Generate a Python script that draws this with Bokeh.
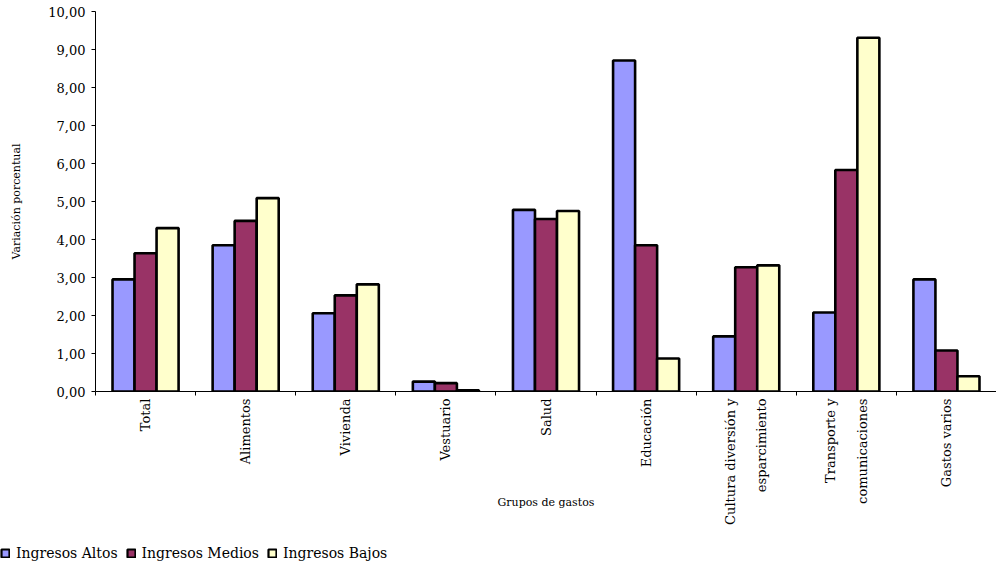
import numpy as np
from bokeh.plotting import figure
from bokeh.layouts import column, row
from bokeh.models import ColumnDataSource, FixedTicker, Legend, LegendItem, Range1d
from bokeh.transform import dodge
from bokeh.embed import file_html
from bokeh.resources import INLINE

categories = ["Total", "Alimentos", "Vivienda", "Vestuario", "Salud", "Educación",
              "Cultura diversión y\nesparcimiento", "Transporte y\ncomunicaciones", "Gastos varios"]
altos = [2.95, 3.85, 2.06, 0.26, 4.78, 8.71, 1.45, 2.08, 2.95]
medios = [3.64, 4.49, 2.53, 0.22, 4.54, 3.85, 3.27, 5.83, 1.08]
bajos = [4.30, 5.09, 2.82, 0.03, 4.75, 0.87, 3.32, 9.31, 0.40]
series_names = ["Ingresos Altos", "Ingresos Medios", "Ingresos Bajos"]
colors = ["#9999FF", "#993366", "#FFFFCC"]
y_ticks = [0, 1, 2, 3, 4, 5, 6, 7, 8, 9, 10]
y_tick_labels = ["0,00", "1,00", "2,00", "3,00", "4,00", "5,00", "6,00", "7,00", "8,00", "9,00", "10,00"]

FONT = "DejaVu Serif"
n = len(categories)
centers = [i + 0.5 for i in range(n)]
source = ColumnDataSource(dict(x=centers, altos=altos, medios=medios, bajos=bajos))

p = figure(width=996, height=541, output_backend="svg", toolbar_location=None,
           x_range=Range1d(0, n), y_range=Range1d(0, 10),
           min_border_left=95, min_border_right=0, min_border_top=11, min_border_bottom=150)
p.outline_line_color = None
p.xgrid.grid_line_color = None
p.ygrid.grid_line_color = None

bw = 0.22
for key, off, col in zip(["altos", "medios", "bajos"], [-bw, 0, bw], colors):
    p.vbar(x=dodge("x", off), top=key, width=bw, source=source,
           fill_color=col, line_color="black", line_width=2.6)

# y axis
p.yaxis.ticker = FixedTicker(ticks=y_ticks)
p.yaxis.major_label_overrides = {t: l for t, l in zip(y_ticks, y_tick_labels)}
p.yaxis.axis_label = "Variación porcentual"
p.yaxis.axis_label_text_font = FONT
p.yaxis.axis_label_text_font_style = "normal"
p.yaxis.axis_label_text_font_size = "11px"
p.yaxis.axis_label_text_color = "black"
p.yaxis.axis_label_standoff = 22
p.yaxis.major_label_text_font = FONT
p.yaxis.major_label_text_font_size = "13px"
p.yaxis.major_label_text_color = "black"
p.yaxis.major_tick_in = 0
p.yaxis.major_tick_out = 4
p.yaxis.minor_tick_out = 0
p.yaxis.minor_tick_in = 0
p.yaxis.axis_line_color = "black"
p.yaxis.major_tick_line_color = "black"
p.yaxis.major_label_standoff = 6

# x axis
p.xaxis.ticker = FixedTicker(ticks=centers, minor_ticks=list(range(n + 1)))
p.xaxis.major_label_overrides = {c: l for c, l in zip(centers, categories)}
p.xaxis.major_label_orientation = np.pi / 2
p.xaxis.major_label_text_font = FONT
p.xaxis.major_label_text_font_size = "13px"
p.xaxis.major_label_text_color = "black"
p.xaxis.major_label_text_line_height = 2.1
p.xaxis.major_tick_in = 0
p.xaxis.major_tick_out = 0
p.xaxis.minor_tick_in = 0
p.xaxis.minor_tick_out = 4
p.xaxis.minor_tick_line_color = "black"
p.xaxis.axis_line_color = "black"
p.xaxis.major_label_standoff = 3
p.xaxis.axis_label = "Grupos de gastos"
p.xaxis.axis_label_text_font = FONT
p.xaxis.axis_label_text_font_style = "normal"
p.xaxis.axis_label_text_font_size = "11px"
p.xaxis.axis_label_text_color = "black"
p.xaxis.axis_label_standoff = -32

# legend strip (off-range keys used only as legend swatches)
pl = figure(width=996, height=24, output_backend="svg", toolbar_location=None,
            x_axis_type=None, y_axis_type=None, x_range=Range1d(0, 1), y_range=Range1d(0, 1),
            min_border_left=0, min_border_right=0, min_border_top=0, min_border_bottom=0)
pl.outline_line_color = None
pl.xgrid.grid_line_color = None
pl.ygrid.grid_line_color = None
keys = []
for col in colors:
    keys.append(pl.vbar(x=[np.nan], top=[np.nan], width=0.1, fill_color=col,
                        line_color="black", line_width=2.2))
legend = Legend(items=[LegendItem(label=nm, renderers=[r]) for nm, r in zip(series_names, keys)],
                orientation="horizontal", location="center_left",
                glyph_width=10, glyph_height=10, spacing=8, padding=0, margin=0,
                label_standoff=6, border_line_color=None, background_fill_alpha=0,
                label_text_font="DejaVu Serif, serif", label_text_font_style="normal",
                label_text_font_size="14px", label_text_color="black")
pl.add_layout(legend, "center")

layout = column(p, row(pl), spacing=0)
open("out.html", "w").write(file_html(layout, INLINE))
